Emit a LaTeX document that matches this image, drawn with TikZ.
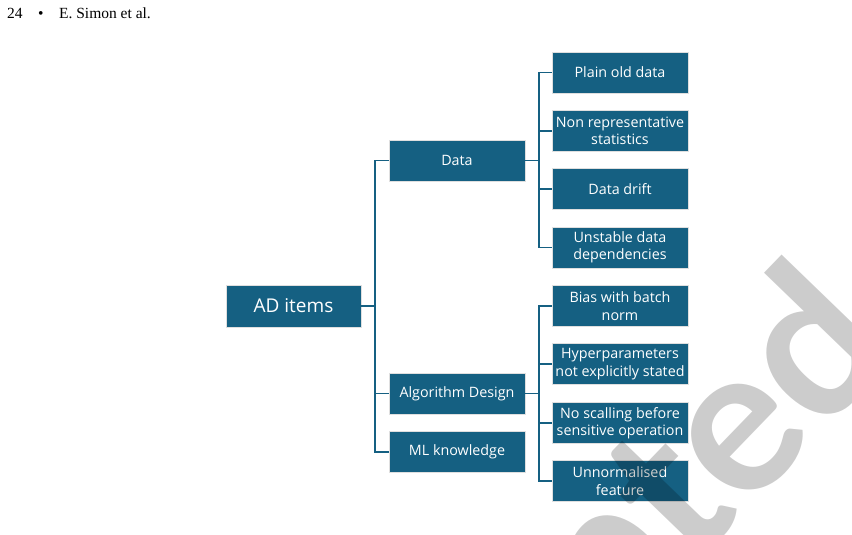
\documentclass[tikz,border=0pt]{standalone}
\usepackage{fontspec}
\setmainfont{Open Sans}
\newfontfamily\hdrfont{Liberation Serif}
\newfontfamily\wmfont{Lato}
\definecolor{boxblue}{HTML}{156082}
\begin{document}
\begin{tikzpicture}[x=1pt,y=-1pt,
  box/.style={draw=gray!25, line width=0.8pt, fill=boxblue, text=white,
    minimum width=136pt, minimum height=41pt, align=center, inner sep=1pt,
    font=\fontsize{14.3}{17.5}\selectfont},
  conn/.style={draw=boxblue, line width=1.6pt}]
\useasboundingbox (0,0) rectangle (852,535);
\clip (0,0) rectangle (852,535);
\fill[white] (0,0) rectangle (852,535);
\node[anchor=base west, font=\hdrfont\fontsize{15.5}{17}\selectfont, inner sep=0pt] (hdr) at (7,18.5) {24\quad\textbullet\quad E. Simon et al.};

\node[box, minimum width=135pt, minimum height=42pt, font=\fontsize{19}{22}\selectfont] (ad) at (293.5,306) {AD items};
\node[box] (data) at (457,160.5) {Data};
\node[box] (algo) at (457,393.5) {Algorithm Design};
\node[box] (ml) at (457,452) {ML knowledge};

\node[box] (r1) at (620,72.5) {Plain old data};
\node[box] (r2) at (620,131) {Non representative\\statistics};
\node[box] (r3) at (620,189) {Data drift};
\node[box] (r4) at (620,247.5) {Unstable data\\dependencies};
\node[box] (r5) at (620,306) {Bias with batch\\norm};
\node[box] (r6) at (620,364) {Hyperparameters\\not explicitly stated};
\node[box] (r7) at (620,423) {No scalling before\\sensitive operation};
\node[box] (r8) at (620,481) {Unnormalised\\feature};

\coordinate (t1) at (375,0);
\coordinate (t2) at (539,0);
\draw[conn] (ad.east) -- (ad.east -| t1);
\draw[conn] (data.west) -- (data.west -| t1) |- (ml.west);
\draw[conn] (algo.west) -- (algo.west -| t1);

\draw[conn] (data.east) -- (data.east -| t2);
\draw[conn] (r1.west) -- (r1.west -| t2) |- (r4.west);
\draw[conn] (r2.west) -- (r2.west -| t2);
\draw[conn] (r3.west) -- (r3.west -| t2);

\draw[conn] (algo.east) -- (algo.east -| t2);
\draw[conn] (r5.west) -- (r5.west -| t2) |- (r8.west);
\draw[conn] (r6.west) -- (r6.west -| t2);
\draw[conn] (r7.west) -- (r7.west -| t2);

\node[rotate=46, anchor=base east, text=black, text opacity=0.2, font=\wmfont\bfseries\fontsize{205}{205}\selectfont, inner sep=0pt] (wm) at (900,352) {Accepted};
\end{tikzpicture}
\end{document}
